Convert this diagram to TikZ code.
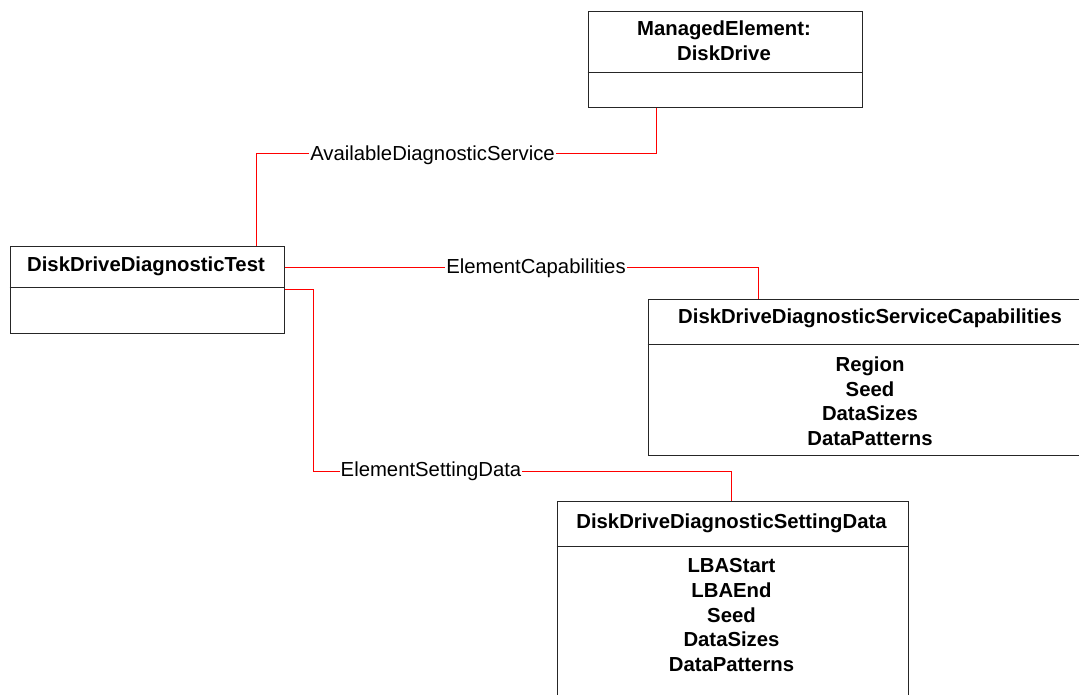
\documentclass[tikz,border=0pt]{standalone}
\usepackage{fontspec}
\setmainfont{Liberation Sans}
\begin{document}
\begin{tikzpicture}[x=1pt,y=-1pt,
  umlbox/.style={draw=black!85, line width=1.1pt, fill=white, anchor=north west,
    inner sep=0pt},
  divline/.style={draw=black!85, line width=1.1pt},
  assoc/.style={draw=red, line width=1.8pt},
  boxtitle/.style={anchor=base, inner sep=0pt, font=\bfseries\fontsize{20.3}{24.5}\selectfont},
  attr/.style={anchor=base, inner sep=0pt, font=\bfseries\fontsize{20.3}{24.5}\selectfont},
  lbl/.style={anchor=base, fill=white, inner xsep=1pt, inner ysep=2pt,
    font=\fontsize{20.3}{24.5}\selectfont}]
  \clip (0,0) rectangle (1079,694);
  \fill[white] (0,0) rectangle (1079,694);

  % class boxes
  \node[umlbox, minimum width=274pt, minimum height=96pt] (me) at (587.5,10.5) {};
  \node[umlbox, minimum width=274pt, minimum height=87pt] (ddt) at (9.5,245.5) {};
  \node[umlbox, minimum width=446pt, minimum height=156pt] (dsc) at (647.5,298.5) {};
  \node[umlbox, minimum width=351pt, minimum height=210pt] (dsd) at (556.5,500.5) {};

  % compartment dividers
  \draw[divline] ([yshift=-62pt]me.north west) -- ([yshift=-62pt]me.north east);
  \draw[divline] ([yshift=-42pt]ddt.north west) -- ([yshift=-42pt]ddt.north east);
  \draw[divline] ([yshift=-46pt]dsc.north west) -- ([yshift=-46pt]dsc.north east);
  \draw[divline] ([yshift=-46pt]dsd.north west) -- ([yshift=-46pt]dsd.north east);

  % class names
  \node[boxtitle] (me-t1) at (724,35) {ManagedElement:};
  \node[boxtitle] (me-t2) at (724,60) {DiskDrive};
  \node[boxtitle] (ddt-t) at (146,271.5) {DiskDriveDiagnosticTest};
  \node[boxtitle] (dsc-t) at (870,323.5) {DiskDriveDiagnosticServiceCapabilities};
  \node[boxtitle] (dsd-t) at (731.5,528.5) {DiskDriveDiagnosticSettingData};

  % attributes
  \foreach \txt [count=\i] in {Region,Seed,DataSizes,DataPatterns}
    \node[attr] (dsc-a\i) at (870,{371.5+24.5*(\i-1)}) {\txt};
  \foreach \txt [count=\i] in {LBAStart,LBAEnd,Seed,DataSizes,DataPatterns}
    \node[attr] (dsd-a\i) at (731.5,{572.5+24.8*(\i-1)}) {\txt};

  % association routes
  \coordinate (a1) at (256.5,153.5);
  \coordinate (a2) at (656.5,153.5);
  \coordinate (c1) at (758.5,267.5);
  \coordinate (s1) at (313.5,289.5);
  \coordinate (s2) at (313.5,471.5);
  \coordinate (s3) at (731.5,471.5);

  \draw[assoc] (ddt.north -| a1) -- (a1) -- (a2) -- (me.south -| a2);
  \draw[assoc] (ddt.east |- c1) -- (c1) -- (dsc.north -| c1);
  \draw[assoc] (ddt.east |- s1) -- (s1) -- (s2) -- (s3) -- (dsd.north -| s3);

  % association names
  \node[lbl] (l-ads) at (432.5,160) {AvailableDiagnosticService};
  \node[lbl] (l-ec) at (536,273.5) {ElementCapabilities};
  \node[lbl] (l-esd) at (431,476.5) {ElementSettingData};
\end{tikzpicture}
\end{document}
